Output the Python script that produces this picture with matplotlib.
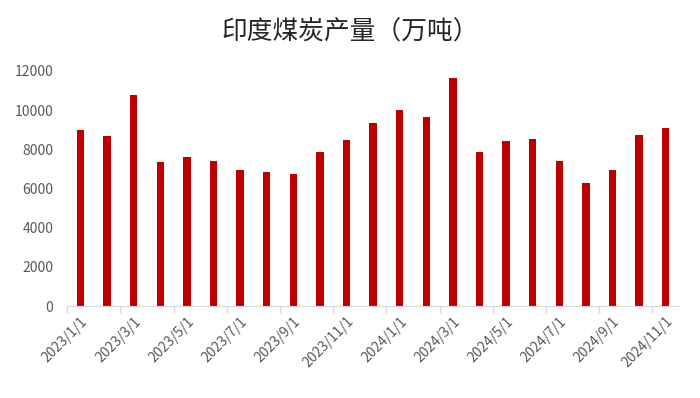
import numpy as np
import matplotlib.pyplot as plt

plt.rcParams['font.family'] = ['Noto Sans CJK SC', 'DejaVu Sans']

# Monthly data
months = ['2023/1/1', '2023/2/1', '2023/3/1', '2023/4/1', '2023/5/1', '2023/6/1',
          '2023/7/1', '2023/8/1', '2023/9/1', '2023/10/1', '2023/11/1', '2023/12/1',
          '2024/1/1', '2024/2/1', '2024/3/1', '2024/4/1', '2024/5/1', '2024/6/1',
          '2024/7/1', '2024/8/1', '2024/9/1', '2024/10/1', '2024/11/1']
output = [8980, 8670, 10790, 7330, 7620, 7390, 6940, 6830, 6730, 7850, 8470,
          9320, 9980, 9650, 11660, 7850, 8400, 8500, 7390, 6270, 6920, 8740, 9090]
yticks = [0, 2000, 4000, 6000, 8000, 10000, 12000]

fig = plt.figure(figsize=(7, 3.98), dpi=100)
ax = fig.add_axes([0.096, 0.231, 0.874, 0.591])

x = np.arange(len(months))
ax.bar(x, output, width=0.28, color='#C00000')

ax.set_xlim(-0.5, len(months) - 0.5)
ax.set_ylim(0, 12000)
ax.set_yticks(yticks)
ax.set_yticklabels([str(v) for v in yticks], fontsize=10, color='#595959')

ax.set_xticks(x[::2])
ax.set_xticklabels(months[::2], rotation=45, ha='right', rotation_mode='anchor',
                   fontsize=10, color='#595959')
ax.set_xticks(np.arange(-0.5, len(months) - 1, 2), minor=True)
ax.tick_params(axis='x', which='major', length=0, pad=6)
ax.tick_params(axis='x', which='minor', length=5, color='#d9d9d9', width=1)
ax.tick_params(axis='y', length=0, pad=10)

for s in ['top', 'right', 'left']:
    ax.spines[s].set_visible(False)
ax.spines['bottom'].set_color('#d9d9d9')

fig.text(0.5, 0.918, '印度煤炭产量（万吨）', ha='center', va='center',
         fontsize=18.5, color='#262626')

fig.savefig('out.png', dpi=100)
